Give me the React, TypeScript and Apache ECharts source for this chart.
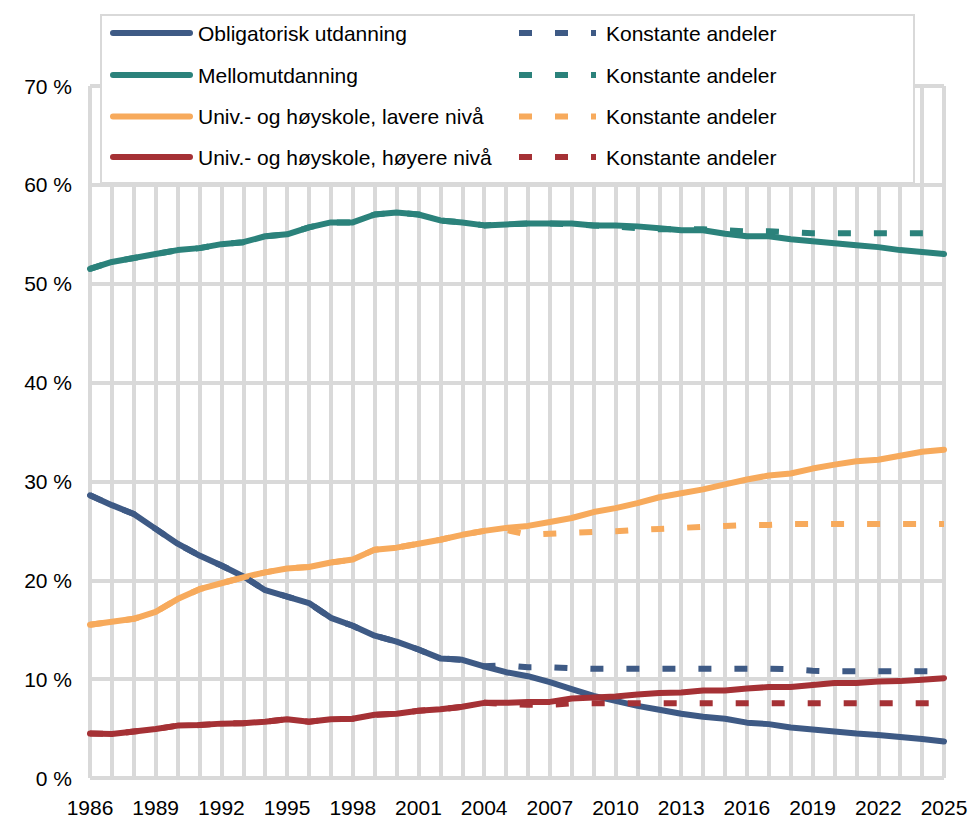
import React, { useEffect, useRef } from "react";
import * as echarts from "echarts";

const years = [
  "1986", "1987", "1988", "1989", "1990", "1991", "1992", "1993", "1994", "1995",
  "1996", "1997", "1998", "1999", "2000", "2001", "2002", "2003", "2004", "2005",
  "2006", "2007", "2008", "2009", "2010", "2011", "2012", "2013", "2014", "2015",
  "2016", "2017", "2018", "2019", "2020", "2021", "2022", "2023", "2024", "2025",
];

const obligatorisk = [
  28.6, 27.6, 26.7, 25.2, 23.7, 22.5, 21.5, 20.4, 19.0, 18.35,
  17.7, 16.2, 15.4, 14.4, 13.8, 13.0, 12.1, 11.95, 11.3, 10.7,
  10.3, 9.7, 9.0, 8.3, 7.8, 7.3, 6.9, 6.5, 6.2, 6.0,
  5.6, 5.45, 5.1, 4.9, 4.7, 4.5, 4.35, 4.15, 3.95, 3.7,
];
const obligatoriskKonst = [
  28.6, 27.6, 26.7, 25.2, 23.7, 22.5, 21.5, 20.4, 19.0, 18.35,
  17.7, 16.2, 15.4, 14.4, 13.8, 13.0, 12.1, 11.95, 11.3, 11.4,
  11.2, 11.2, 11.1, 11.05, 11.05, 11.05, 11.05, 11.05, 11.05, 11.05,
  11.05, 11.05, 11.0, 10.85, 10.8, 10.8, 10.8, 10.8, 10.8, 10.8,
];

const mellom = [
  51.5, 52.2, 52.6, 53.0, 53.4, 53.6, 54.0, 54.2, 54.8, 55.0,
  55.7, 56.2, 56.2, 57.0, 57.2, 57.0, 56.4, 56.2, 55.9, 56.0,
  56.1, 56.1, 56.1, 55.9, 55.9, 55.8, 55.6, 55.4, 55.4, 55.05,
  54.8, 54.8, 54.5, 54.3, 54.1, 53.9, 53.7, 53.4, 53.2, 53.0,
];
const mellomKonst = [
  51.5, 52.2, 52.6, 53.0, 53.4, 53.6, 54.0, 54.2, 54.8, 55.0,
  55.7, 56.2, 56.2, 57.0, 57.2, 57.0, 56.4, 56.2, 55.9, 56.0,
  56.1, 56.1, 56.0, 55.9, 55.8, 55.6, 55.5, 55.5, 55.5, 55.4,
  55.3, 55.3, 55.2, 55.1, 55.1, 55.1, 55.1, 55.1, 55.1, 55.1,
];

const lavere = [
  15.5, 15.8, 16.1, 16.8, 18.1, 19.1, 19.7, 20.3, 20.8, 21.2,
  21.35, 21.8, 22.1, 23.1, 23.3, 23.7, 24.1, 24.6, 25.0, 25.3,
  25.5, 25.9, 26.3, 26.9, 27.3, 27.8, 28.4, 28.8, 29.2, 29.7,
  30.2, 30.6, 30.8, 31.3, 31.7, 32.05, 32.2, 32.6, 33.0, 33.2,
];
const lavereKonst = [
  15.5, 15.8, 16.1, 16.8, 18.1, 19.1, 19.7, 20.3, 20.8, 21.2,
  21.35, 21.8, 22.1, 23.1, 23.3, 23.7, 24.1, 24.6, 25.0, 25.1,
  24.6, 24.7, 24.8, 24.9, 24.95, 25.1, 25.2, 25.3, 25.4, 25.5,
  25.6, 25.6, 25.7, 25.7, 25.7, 25.7, 25.7, 25.7, 25.7, 25.7,
];

const hoyere = [
  4.5, 4.45, 4.7, 4.95, 5.3, 5.35, 5.5, 5.55, 5.7, 5.95,
  5.7, 5.95, 6.0, 6.4, 6.5, 6.8, 6.95, 7.2, 7.6, 7.6,
  7.7, 7.7, 8.05, 8.15, 8.25, 8.45, 8.6, 8.65, 8.85, 8.85,
  9.05, 9.2, 9.2, 9.4, 9.6, 9.6, 9.75, 9.8, 9.95, 10.1,
];
const hoyereKonst = [
  4.5, 4.45, 4.7, 4.95, 5.3, 5.35, 5.5, 5.55, 5.7, 5.95,
  5.7, 5.95, 6.0, 6.4, 6.5, 6.8, 6.95, 7.2, 7.6, 7.5,
  7.4, 7.4, 7.55, 7.55, 7.55, 7.55, 7.55, 7.55, 7.55, 7.55,
  7.55, 7.55, 7.55, 7.55, 7.55, 7.55, 7.55, 7.55, 7.55, 7.55,
];

const solidNames = [
  "Obligatorisk utdanning",
  "Mellomutdanning",
  "Univ.- og høyskole, lavere nivå",
  "Univ.- og høyskole, høyere nivå",
];
const konstName = "Konstante andeler";
const colors = ["#3E5A85", "#2B827B", "#F7AA5C", "#A53135"];

const FONT = '"Liberation Sans", Arial, Helvetica, sans-serif';

export default function App() {
  const ref = useRef<HTMLDivElement>(null);

  useEffect(() => {
    if (!ref.current) return;
    const chart = echarts.init(ref.current, null, { renderer: "svg" });
    const solidData = [obligatorisk, mellom, lavere, hoyere];
    const konstData = [obligatoriskKonst, mellomKonst, lavereKonst, hoyereKonst];

    const series: any[] = [];
    solidData.forEach((d, i) => {
      series.push({
        name: solidNames[i],
        type: "line",
        data: d,
        symbol: "none",
        z: 2,
        lineStyle: { color: colors[i], width: 6, cap: "round", join: "round" },
      });
    });
    konstData.forEach((d, i) => {
      series.push({
        name: konstName + " " + (i + 1),
        type: "line",
        data: d,
        symbol: "none",
        z: 3,
        lineStyle: { color: colors[i], width: 6, type: [13, 23], cap: "butt", join: "round" },
      });
    });

    const rowY = [33, 75, 116.5, 157];
    const legendEls: any[] = [
      {
        type: "rect",
        z: 100,
        shape: { x: 101, y: 15, width: 813, height: 168 },
        style: { fill: "#FFFFFF", stroke: "#D9D9D9", lineWidth: 2 },
      },
    ];
    rowY.forEach((y, i) => {
      legendEls.push({
        type: "line",
        z: 101,
        shape: { x1: 113, y1: y, x2: 190, y2: y },
        style: { stroke: colors[i], lineWidth: 6, lineCap: "round" },
      });
      legendEls.push({
        type: "text",
        z: 101,
        x: 198,
        y: y,
        style: { text: solidNames[i], fontSize: 21, fontFamily: FONT, fill: "#000", verticalAlign: "middle" },
      });
      legendEls.push({
        type: "line",
        z: 101,
        shape: { x1: 519, y1: y, x2: 596, y2: y },
        style: { stroke: colors[i], lineWidth: 6, lineDash: [13, 23], lineCap: "butt" },
      });
      legendEls.push({
        type: "text",
        z: 101,
        x: 606,
        y: y,
        style: { text: konstName, fontSize: 21, fontFamily: FONT, fill: "#000", verticalAlign: "middle" },
      });
    });

    chart.setOption({
      animation: false,
      backgroundColor: "#FFFFFF",
      grid: { left: 90, right: 27, top: 86, bottom: 39, containLabel: false },
      xAxis: {
        type: "category",
        data: years,
        boundaryGap: false,
        axisLine: { show: false },
        axisTick: { show: false },
        axisLabel: { interval: 2, margin: 19, fontSize: 21, color: "#000", fontFamily: FONT },
        splitLine: { show: true, interval: 0, lineStyle: { color: "#D9D9D9", width: 4 } },
      },
      yAxis: {
        type: "value",
        min: 0,
        max: 70,
        interval: 10,
        axisLine: { show: false },
        axisTick: { show: false },
        axisLabel: { formatter: "{value} %", margin: 18, fontSize: 21, color: "#000", fontFamily: FONT },
        splitLine: { show: true, lineStyle: { color: "#D9D9D9", width: 4 } },
      },
      legend: { show: false },
      series,
      graphic: { elements: legendEls },
    });

    return () => chart.dispose();
  }, []);

  return (
    <div
      ref={ref}
      style={{ position: "absolute", left: 0, top: 0, width: 971, height: 818 }}
    />
  );
}
